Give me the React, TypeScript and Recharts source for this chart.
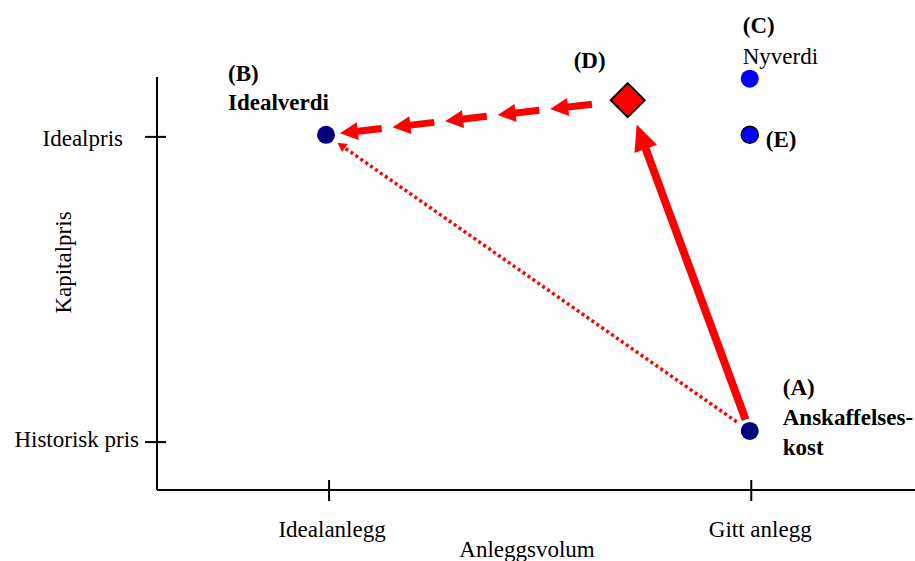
import { ScatterChart, Scatter, XAxis, YAxis, ReferenceLine } from 'recharts'

// points in the diagram (x: anleggsvolum, y: kapitalpris, both 0-100)
const pointIds = ['A', 'B', 'C', 'D', 'E']
const pointX = [78.2, 22.3, 78.2, 62.1, 78.2]
const pointY = [14.3, 86.0, 99.6, 94.4, 86.0]
const pointText = [['(A)', 'Anskaffelses-', 'kost'], ['(B)', 'Idealverdi'], ['(C)', 'Nyverdi'], ['(D)'], ['(E)']]

const xTickValues = [22.7, 78.4]
const xTickLabels = ['Idealanlegg', 'Gitt anlegg']
const yTickValues = [11.6, 85.5]
const yTickLabels = ['Historisk pris', 'Idealpris']

// arrows between points
const arrowFrom = ['A', 'D', 'A']
const arrowTo = ['D', 'B', 'B']
const arrowKind = ['solid', 'dashed', 'dotted']

const FONT = 'Liberation Serif, Times New Roman, serif'
const RED = '#ff0000'

const points = pointIds.map((id, i) => ({ id, x: pointX[i], y: pointY[i], text: pointText[i] }))
const byId = (id: string) => points.find((p) => p.id === id)!

// label placement relative to the marker, in px
const labelStyle: Record<string, { dx: number; dy: number[]; bold: boolean[] }> = {
  A: { dx: 33, dy: [-36, -6, 24], bold: [true, true, true] },
  B: { dx: -98, dy: [-54, -25], bold: [true, true] },
  C: { dx: -7, dy: [-46, -15], bold: [true, false] },
  D: { dx: -54, dy: [-32], bold: [true] },
  E: { dx: 16, dy: [12], bold: [true] },
}

const yTickStyle: Record<string, { right: number; dy: number }> = {
  'Historisk pris': { right: 18, dy: 5 },
  Idealpris: { right: 34, dy: 9 },
}
const xTickStyle: Record<string, number> = { Idealanlegg: 3, 'Gitt anlegg': 9 }

function arrowPoints(x1: number, y1: number, x2: number, y2: number, shaft: number, headL: number, headW: number) {
  const len = Math.hypot(x2 - x1, y2 - y1)
  const ux = (x2 - x1) / len
  const uy = (y2 - y1) / len
  const nx = -uy
  const ny = ux
  const bx = x2 - ux * headL
  const by = y2 - uy * headL
  const s = shaft / 2
  const h = headW / 2
  const pts = [
    [x1 + nx * s, y1 + ny * s],
    [bx + nx * s, by + ny * s],
    [bx + nx * h, by + ny * h],
    [x2, y2],
    [bx - nx * h, by - ny * h],
    [bx - nx * s, by - ny * s],
    [x1 - nx * s, y1 - ny * s],
  ]
  return pts.map((p) => p.join(',')).join(' ')
}

function trim(x1: number, y1: number, x2: number, y2: number, g1: number, g2: number) {
  const len = Math.hypot(x2 - x1, y2 - y1)
  const ux = (x2 - x1) / len
  const uy = (y2 - y1) / len
  return { x1: x1 + ux * g1, y1: y1 + uy * g1, x2: x2 - ux * g2, y2: y2 - uy * g2, len, ux, uy }
}

function renderArrow(kind: string) {
  return (props: any) => {
    const { x1, y1, x2, y2 } = props
    if (kind === 'solid') {
      const t = trim(x1, y1, x2, y2, 12, 26)
      return <polygon points={arrowPoints(t.x1, t.y1, t.x2, t.y2, 8, 26, 24)} fill={RED} />
    }
    if (kind === 'dotted') {
      const t = trim(x1, y1, x2, y2, 16, 14)
      const bx = t.x2 - t.ux * 9
      const by = t.y2 - t.uy * 9
      return (
        <g>
          <line x1={t.x1} y1={t.y1} x2={bx} y2={by} stroke={RED} strokeWidth={3.5} strokeDasharray="3 3" />
          <polygon points={arrowPoints(bx, by, t.x2, t.y2, 0, 9, 10)} fill={RED} />
        </g>
      )
    }
    // dashed: a row of short arrows
    const t = trim(x1, y1, x2, y2, 36, 14)
    const segLen = 42
    const count = 5
    const avail = Math.hypot(t.x2 - t.x1, t.y2 - t.y1)
    const step = (avail - segLen) / (count - 1)
    const segs = []
    for (let i = 0; i < count; i++) {
      const sx = t.x1 + t.ux * step * i
      const sy = t.y1 + t.uy * step * i
      segs.push(
        <polygon key={i} points={arrowPoints(sx, sy, sx + t.ux * segLen, sy + t.uy * segLen, 7, 18, 18)} fill={RED} />
      )
    }
    return <g>{segs}</g>
  }
}

function PointShape(props: any) {
  const { cx, cy, payload } = props
  const id = payload.id as string
  const ls = labelStyle[id]
  let marker
  if (id === 'D') {
    const r = 17
    marker = (
      <polygon
        points={`${cx},${cy - r} ${cx + r},${cy} ${cx},${cy + r} ${cx - r},${cy}`}
        fill={RED}
        stroke="#000"
        strokeWidth={2}
      />
    )
  } else if (id === 'E') {
    marker = <circle cx={cx} cy={cy} r={8.5} fill="#0000ff" stroke="#000" strokeWidth={1.5} />
  } else if (id === 'C') {
    marker = <circle cx={cx} cy={cy} r={9} fill="#0000ff" />
  } else {
    marker = <circle cx={cx} cy={cy} r={9} fill="#000080" />
  }
  return (
    <g>
      {marker}
      {payload.text.map((line: string, i: number) => (
        <text
          key={i}
          x={cx + ls.dx}
          y={cy + ls.dy[i]}
          style={{ fontFamily: FONT }}
          fontSize={23}
          fontWeight={ls.bold[i] ? 'bold' : 'normal'}
          fill="#000"
        >
          {line}
        </text>
      ))}
    </g>
  )
}

function YTick(props: any) {
  const { x, y, payload } = props
  const label = yTickLabels[yTickValues.indexOf(payload.value)]
  const st = yTickStyle[label]
  return (
    <g>
      <line x1={x - 12} y1={y} x2={x + 9} y2={y} stroke="#000" strokeWidth={2} />
      <text x={x - st.right} y={y + st.dy} textAnchor="end" style={{ fontFamily: FONT }} fontSize={23} fill="#000">
        {label}
      </text>
    </g>
  )
}

function XTick(props: any) {
  const { x, y, payload } = props
  const label = xTickLabels[xTickValues.indexOf(payload.value)]
  return (
    <g>
      <line x1={x} y1={y - 10} x2={x} y2={y + 11} stroke="#000" strokeWidth={2} />
      <text
        x={x + xTickStyle[label]}
        y={y + 47}
        textAnchor="middle"
        style={{ fontFamily: FONT }}
        fontSize={23}
        fill="#000"
      >
        {label}
      </text>
    </g>
  )
}

export default function App() {
  return (
    <div style={{ position: 'absolute', left: 0, top: 0, background: '#fff' }}>
      <ScatterChart width={915} height={561} margin={{ top: 77, right: 0, bottom: 70, left: 156 }}>
        <XAxis
          type="number"
          dataKey="x"
          domain={[0, 100]}
          ticks={xTickValues}
          height={1}
          tickSize={0}
          tickMargin={0}
          tickLine={false}
          tick={<XTick />}
          axisLine={{ stroke: '#000', strokeWidth: 2 }}
          label={{
            content: (p: any) => (
              <text
                x={p.viewBox.x + p.viewBox.width / 2 - 9}
                y={p.viewBox.y + 67}
                textAnchor="middle"
                style={{ fontFamily: FONT }}
                fontSize={23}
                fill="#000"
              >
                Anleggsvolum
              </text>
            ),
          }}
        />
        <YAxis
          type="number"
          dataKey="y"
          domain={[0, 100]}
          ticks={yTickValues}
          width={1}
          tickSize={0}
          tickMargin={0}
          tickLine={false}
          tick={<YTick />}
          axisLine={{ stroke: '#000', strokeWidth: 2 }}
          label={{
            content: (p: any) => {
              const cx = p.viewBox.x - 85
              const cy = p.viewBox.y + p.viewBox.height / 2 - 21
              return (
                <text
                  x={cx}
                  y={cy}
                  transform={`rotate(-90, ${cx}, ${cy})`}
                  textAnchor="middle"
                  style={{ fontFamily: FONT }}
                  fontSize={23}
                  fill="#000"
                >
                  Kapitalpris
                </text>
              )
            },
          }}
        />
        {arrowKind.map((kind, i) => {
          const a = byId(arrowFrom[i])
          const b = byId(arrowTo[i])
          return (
            <ReferenceLine
              key={kind}
              segment={[
                { x: a.x, y: a.y },
                { x: b.x, y: b.y },
              ]}
              ifOverflow="visible"
              shape={renderArrow(kind)}
            />
          )
        })}
        <Scatter data={points} shape={<PointShape />} isAnimationActive={false} />
      </ScatterChart>
    </div>
  )
}
